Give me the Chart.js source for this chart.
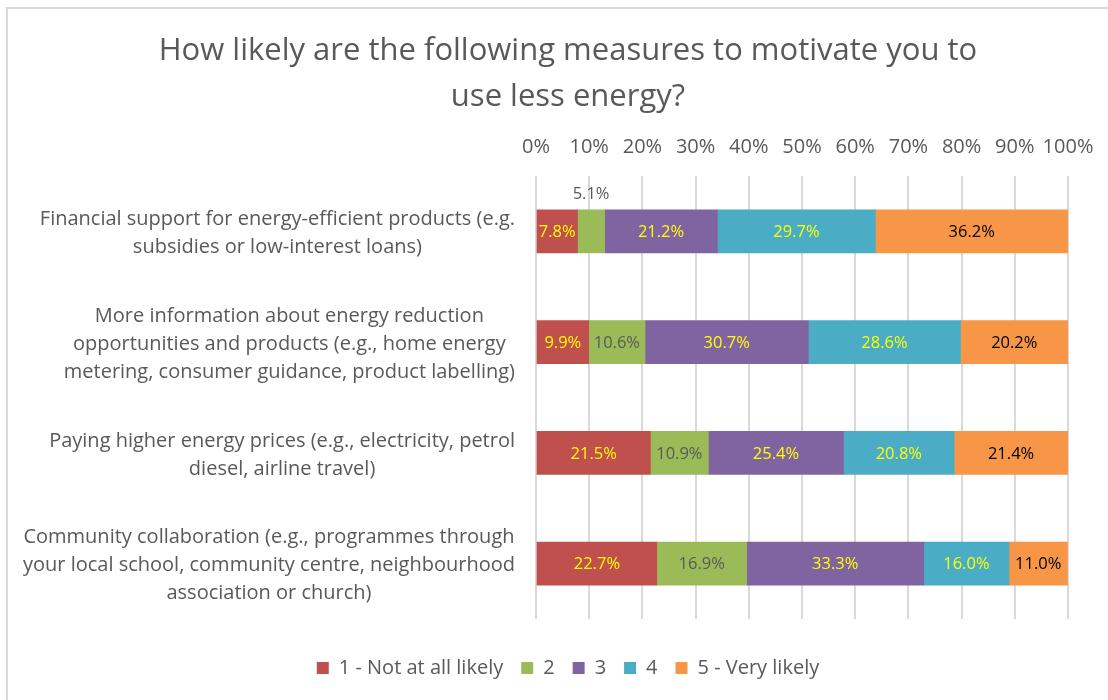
<!DOCTYPE html>
<html>
<head>
<meta charset="utf-8">
<script src="https://cdn.jsdelivr.net/npm/chart.js@4"></script>
<style>
  html, body { margin: 0; padding: 0; background: #fff; }
  #wrap { position: relative; width: 1108px; height: 700px; overflow: hidden; }
  #frame { position: absolute; left: 6px; top: 7px; width: 1200px; height: 800px;
    border-left: 2px solid #d9d9d9; border-top: 2px solid #d9d9d9; }
  #chart { position: absolute; left: 0; top: 0; }
</style>
</head>
<body>
<div id="wrap">
  <div id="frame"></div>
  <canvas id="chart" width="1108" height="700"></canvas>
</div>
<script>
const categories = [
  ['Financial support for energy-efficient products (e.g.', 'subsidies or low-interest loans)'],
  ['More information about energy reduction', 'opportunities and products (e.g., home energy', 'metering, consumer guidance, product labelling)'],
  ['Paying higher energy prices (e.g., electricity, petrol', 'diesel, airline travel)'],
  ['Community collaboration (e.g., programmes through', 'your local school, community centre, neighbourhood', 'association or church)']
];

const seriesNames = ['1 - Not at all likely', '2', '3', '4', '5 - Very likely'];
const notAtAll = [7.8, 9.9, 21.5, 22.7];
const two = [5.1, 10.6, 10.9, 16.9];
const three = [21.2, 30.7, 25.4, 33.3];
const four = [29.7, 28.6, 20.8, 16.0];
const veryLikely = [36.2, 20.2, 21.4, 11.0];

const xTicks = [0, 10, 20, 30, 40, 50, 60, 70, 80, 90, 100];

const colors = ['#c0504d', '#9bbb59', '#8064a2', '#4bacc6', '#f79646'];
const labelColors = ['#ffff00', '#595959', '#ffff00', '#ffff00', '#000000'];

const FONT = '"Open Sans", sans-serif';
const GREY = '#595959';
const PAD_LEFT = 68;

const seriesValues = [notAtAll, two, three, four, veryLikely];

// value labels inside segments, above the bar when the segment is too narrow
const valueLabels = {
  id: 'valueLabels',
  afterDatasetsDraw(chart) {
    const ctx = chart.ctx;
    ctx.save();
    ctx.font = '16.5px ' + FONT;
    ctx.textAlign = 'center';
    ctx.textBaseline = 'middle';
    chart.data.datasets.forEach((ds, di) => {
      chart.getDatasetMeta(di).data.forEach((bar, i) => {
        const text = ds.data[i].toFixed(1) + '%';
        const w = Math.abs(bar.x - bar.base);
        const cx = (bar.x + bar.base) / 2;
        if (w < 30) {
          ctx.fillStyle = GREY;
          ctx.fillText(text, cx, bar.y - bar.height / 2 - 16);
        } else {
          ctx.fillStyle = labelColors[di];
          ctx.fillText(text, cx, bar.y + 1);
        }
      });
    });
    ctx.restore();
  }
};

// category labels: block right-aligned, each line centred in the block
const categoryLabels = {
  id: 'categoryLabels',
  afterDraw(chart) {
    const ctx = chart.ctx;
    const yScale = chart.scales.y;
    const right = 515;
    const lineH = 28;
    ctx.save();
    ctx.font = '20px ' + FONT;
    ctx.fillStyle = GREY;
    ctx.textAlign = 'center';
    ctx.textBaseline = 'middle';
    categories.forEach((lines, i) => {
      const y = yScale.getPixelForValue(i) + 2;
      const blockW = Math.max(...lines.map((l) => ctx.measureText(l).width));
      const cx = right - blockW / 2;
      const y0 = y - (lines.length - 1) * lineH / 2;
      lines.forEach((l, k) => ctx.fillText(l, cx, y0 + k * lineH));
    });
    ctx.restore();
  }
};

new Chart(document.getElementById('chart'), {
  type: 'bar',
  data: {
    labels: categories.map((c) => c.join(' ')),
    datasets: seriesNames.map((name, i) => ({
      label: name,
      data: seriesValues[i],
      backgroundColor: colors[i],
      borderWidth: 0,
      barThickness: 43
    }))
  },
  options: {
    indexAxis: 'y',
    responsive: false,
    animation: false,
    layout: { padding: { top: 0, right: 40, bottom: 12, left: PAD_LEFT } },
    plugins: {
      tooltip: { enabled: false },
      title: {
        display: true,
        text: ['How likely are the following measures to motivate you to', 'use less energy?'],
        color: GREY,
        font: { family: FONT, size: 31, weight: 'normal', lineHeight: '46px' },
        padding: { top: 28, bottom: 0 }
      },
      legend: {
        position: 'bottom',
        title: { display: true, text: '', padding: 0, font: { size: 21, lineHeight: '21px' } },
        labels: {
          color: GREY,
          font: { family: FONT, size: 20 },
          boxWidth: 12,
          boxHeight: 12,
          padding: 18
        }
      }
    },
    scales: {
      x: {
        position: 'top',
        stacked: true,
        min: 0,
        max: 100,
        afterBuildTicks(scale) {
          scale.ticks = xTicks.map((v) => ({ value: v }));
        },
        afterFit(scale) {
          scale.height = 56;
          scale.paddingLeft = 0;
          scale.paddingRight = 0;
        },
        ticks: {
          color: GREY,
          font: { family: FONT, size: 20 },
          padding: 17,
          maxRotation: 0,
          minRotation: 0,
          autoSkip: false,
          callback: (v) => v + '%'
        },
        grid: { color: '#d9d9d9', lineWidth: 2, drawTicks: false },
        border: { display: false }
      },
      y: {
        stacked: true,
        ticks: { display: false },
        afterFit(scale) {
          scale.width = 536 - PAD_LEFT;
        },
        grid: { display: false },
        border: { display: false }
      }
    }
  },
  plugins: [valueLabels, categoryLabels]
});
</script>
</body>
</html>
